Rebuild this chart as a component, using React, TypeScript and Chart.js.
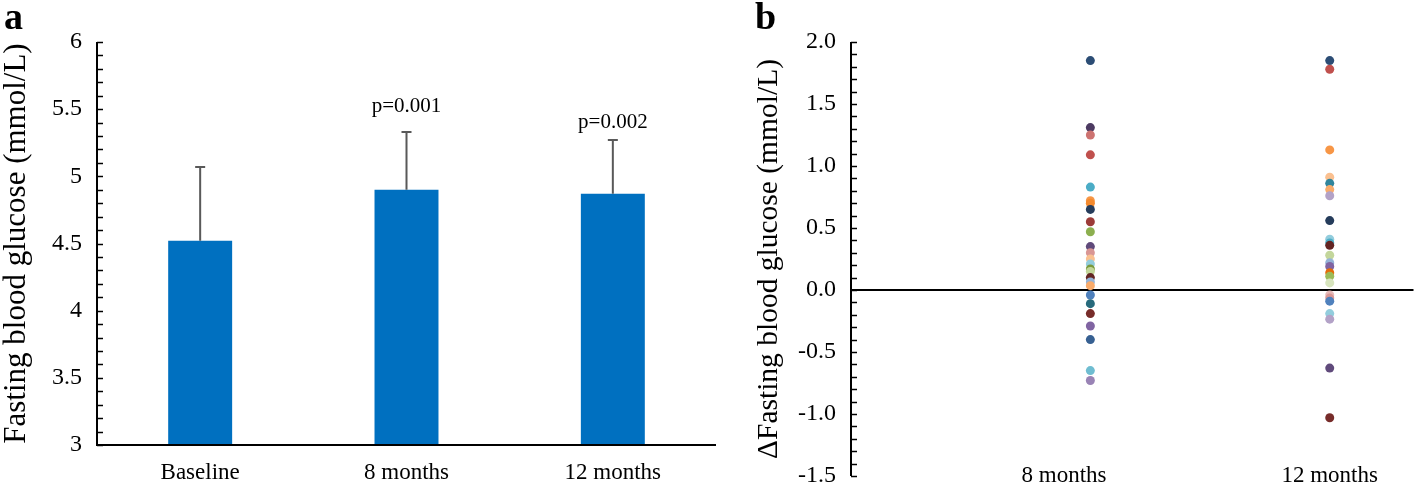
import React, { useEffect, useRef } from "react";
import { Chart, registerables } from "chart.js";
Chart.register(...registerables);

const SERIF = '"Liberation Serif", "Times New Roman", serif';

// Panel a
const categories = ["Baseline", "8 months", "12 months"];
const meanValues = [4.52, 4.9, 4.87];
const sdValues = [0.55, 0.43, 0.4];
const pLabels = ["", "p=0.001", "p=0.002"];
const pLabelValues = [0, 5.52, 5.4];
const leftTitle = "Fasting blood glucose (mmol/L)";

// Panel b
const deltaCategories = ["8 months", "12 months"];
const deltaCategoryX = [1, 2];
const deltaLabelX = [0.89, 2.0];
const delta8Values = [
  1.85, 1.31, 1.25, 1.09, 0.83, 0.72, 0.7, 0.65, 0.55, 0.47, 0.35, 0.3, 0.25, 0.21, 0.17, 0.15, 0.1,
  0.065, 0.035, -0.04, -0.11, -0.19, -0.29, -0.4, -0.65, -0.73,
];
const delta8Colors = [
  "#2C4D75", "#4D3B62", "#CD7371", "#C0504D", "#4BACC6", "#F79646", "#F38A2E", "#253C5B", "#9C3B38",
  "#8CAF4F", "#604A7B", "#D99694", "#FAC090", "#93CDDD", "#7A9A3C", "#C3D69B", "#632523", "#95B3D7",
  "#F9AB6B", "#4F81BD", "#276A7C", "#772C2A", "#8064A2", "#376092", "#6FBDD1", "#9983B5",
];
const delta12Values = [
  1.85, 1.78, 1.13, 0.91, 0.86, 0.81, 0.76, 0.56, 0.41, 0.38, 0.36, 0.28, 0.22, 0.19, 0.14, 0.11, 0.057,
  -0.04, -0.065, -0.09, -0.19, -0.235, -0.63, -1.03,
];
const delta12Colors = [
  "#2C4D75", "#C0504D", "#F79646", "#FAC090", "#31859C", "#F9AB6B", "#B3A2C7", "#253C5B", "#93CDDD",
  "#4BACC6", "#632523", "#C3D69B", "#95B3D7", "#8064A2", "#E46C0A", "#9BBB59", "#D7E4BD", "#E6B9B8",
  "#D99694", "#4F81BD", "#93CDDD", "#B3A2C7", "#604A7B", "#772C2A",
];
const rightTitle = "ΔFasting blood glucose (mmol/L)";

function drawInwardTicks(ctx: CanvasRenderingContext2D, chart: any, min: number, max: number) {
  const y = chart.scales.y;
  const left = chart.chartArea.left;
  ctx.save();
  ctx.strokeStyle = "#000";
  ctx.lineWidth = 1.5;
  const n = Math.round((max - min) / 0.1);
  for (let i = 0; i <= n; i++) {
    const v = min + i * 0.1;
    const py = Math.round(y.getPixelForValue(v)) + 0.5;
    ctx.beginPath();
    ctx.moveTo(left, py);
    ctx.lineTo(left + 6, py);
    ctx.stroke();
  }
  ctx.lineWidth = 2;
  ctx.beginPath();
  ctx.moveTo(left, y.getPixelForValue(max));
  ctx.lineTo(left, y.getPixelForValue(min));
  ctx.stroke();
  ctx.restore();
}

function drawTickLabels(ctx: CanvasRenderingContext2D, chart: any, fmt: (v: number) => string) {
  const y = chart.scales.y;
  const left = chart.chartArea.left;
  ctx.save();
  ctx.fillStyle = "#000";
  ctx.font = `24px ${SERIF}`;
  ctx.textAlign = "right";
  ctx.textBaseline = "middle";
  y.ticks.forEach((t: any) => {
    ctx.fillText(fmt(t.value), left - 15, y.getPixelForValue(t.value));
  });
  ctx.restore();
}

const leftPlugin = {
  id: "leftDecor",
  afterDatasetsDraw(chart: any) {
    const ctx = chart.ctx;
    const meta = chart.getDatasetMeta(0);
    const y = chart.scales.y;
    ctx.save();
    ctx.strokeStyle = "#595959";
    ctx.lineWidth = 2;
    meta.data.forEach((bar: any, i: number) => {
      const top = y.getPixelForValue(meanValues[i] + sdValues[i]);
      ctx.beginPath();
      ctx.moveTo(bar.x, bar.y);
      ctx.lineTo(bar.x, top);
      ctx.moveTo(bar.x - 5, top);
      ctx.lineTo(bar.x + 5, top);
      ctx.stroke();
      if (pLabels[i]) {
        ctx.fillStyle = "#000";
        ctx.font = `21px ${SERIF}`;
        ctx.textAlign = "center";
        ctx.textBaseline = "middle";
        ctx.fillText(pLabels[i], bar.x, y.getPixelForValue(pLabelValues[i]));
      }
    });
    ctx.restore();
  },
  afterDraw(chart: any) {
    const ctx = chart.ctx;
    const { left, right, bottom } = chart.chartArea;
    drawInwardTicks(ctx, chart, 3, 6);
    drawTickLabels(ctx, chart, (v) => String(Number(v.toFixed(1))));
    ctx.save();
    ctx.strokeStyle = "#000";
    ctx.lineWidth = 2;
    ctx.beginPath();
    ctx.moveTo(left - 1, bottom);
    ctx.lineTo(right, bottom);
    ctx.stroke();
    ctx.fillStyle = "#000";
    ctx.font = `bold 38px ${SERIF}`;
    ctx.textAlign = "left";
    ctx.textBaseline = "alphabetic";
    ctx.fillText("a", 4, 29);
    ctx.restore();
  },
};

const rightPlugin = {
  id: "rightDecor",
  beforeDatasetsDraw(chart: any) {
    const ctx = chart.ctx;
    const { left, right } = chart.chartArea;
    const y = chart.scales.y;
    const y0 = y.getPixelForValue(0);
    ctx.save();
    ctx.strokeStyle = "#000";
    ctx.lineWidth = 2;
    ctx.beginPath();
    ctx.moveTo(left, y0);
    ctx.lineTo(right, y0);
    ctx.stroke();
    ctx.restore();
  },
  afterDraw(chart: any) {
    const ctx = chart.ctx;
    const x = chart.scales.x;
    drawInwardTicks(ctx, chart, -1.5, 2.0);
    drawTickLabels(ctx, chart, (v) => v.toFixed(1));
    ctx.save();
    ctx.fillStyle = "#000";
    ctx.font = `23px ${SERIF}`;
    ctx.textAlign = "center";
    ctx.textBaseline = "alphabetic";
    deltaCategories.forEach((c, i) => {
      ctx.fillText(c, x.getPixelForValue(deltaLabelX[i]), 482);
    });
    ctx.font = `bold 38px ${SERIF}`;
    ctx.textAlign = "left";
    ctx.fillText("b", 35, 29);
    ctx.restore();
  },
};

function LeftChart() {
  const ref = useRef<HTMLCanvasElement>(null);
  useEffect(() => {
    const chart = new Chart(ref.current!, {
      type: "bar",
      data: {
        labels: categories,
        datasets: [
          {
            data: meanValues,
            backgroundColor: "#0070C0",
            barPercentage: 0.31,
            categoryPercentage: 1,
          },
        ],
      },
      options: {
        responsive: false,
        animation: false,
        layout: { padding: { left: 0, top: 42, right: 4, bottom: 0 } },
        plugins: { legend: { display: false }, tooltip: { enabled: false } },
        scales: {
          x: {
            grid: { display: false, drawTicks: false },
            border: { display: false },
            ticks: { color: "#000", font: { family: SERIF, size: 23 }, padding: 14, maxRotation: 0 },
            afterFit: (s: any) => {
              s.height = 42;
            },
          },
          y: {
            min: 3,
            max: 6,
            grid: { display: false, drawTicks: false },
            border: { display: false },
            ticks: { stepSize: 0.5, display: false },
            title: {
              display: true,
              text: leftTitle,
              color: "#000",
              font: { family: SERIF, size: 31, lineHeight: 1.1 },
              padding: { top: 0, bottom: 0 },
            },
            afterFit: (s: any) => {
              s.width = 97;
            },
          },
        },
      },
      plugins: [leftPlugin],
    } as any);
    return () => chart.destroy();
  }, []);
  return <canvas ref={ref} width={720} height={487} style={{ width: 720, height: 487, display: "block" }} />;
}

function RightChart() {
  const ref = useRef<HTMLCanvasElement>(null);
  useEffect(() => {
    const chart = new Chart(ref.current!, {
      type: "scatter",
      data: {
        datasets: [
          {
            data: delta8Values.map((v) => ({ x: deltaCategoryX[0], y: v })),
            pointBackgroundColor: delta8Colors,
            pointBorderWidth: 0,
            pointRadius: 4.5,
          },
          {
            data: delta12Values.map((v) => ({ x: deltaCategoryX[1], y: v })),
            pointBackgroundColor: delta12Colors,
            pointBorderWidth: 0,
            pointRadius: 4.5,
          },
        ],
      },
      options: {
        responsive: false,
        animation: false,
        layout: { padding: { left: 0, top: 42, right: 2, bottom: 11 } },
        plugins: { legend: { display: false }, tooltip: { enabled: false } },
        scales: {
          x: { type: "linear", min: 0, max: 2.35, display: false },
          y: {
            min: -1.5,
            max: 2.0,
            grid: { display: false, drawTicks: false },
            border: { display: false },
            ticks: { stepSize: 0.5, display: false },
            title: {
              display: true,
              text: rightTitle,
              color: "#000",
              font: { family: SERIF, size: 29.5, lineHeight: 1.1 },
              padding: { top: 33, bottom: 0 },
            },
            afterFit: (s: any) => {
              s.width = 131;
            },
          },
        },
      },
      plugins: [rightPlugin],
    } as any);
    return () => chart.destroy();
  }, []);
  return <canvas ref={ref} width={698} height={487} style={{ width: 698, height: 487, display: "block" }} />;
}

export default function App() {
  return (
    <div style={{ position: "fixed", left: 0, top: 0, width: 1418, height: 487, background: "#fff" }}>
      <div style={{ position: "absolute", left: 0, top: 0 }}>
        <LeftChart />
      </div>
      <div style={{ position: "absolute", left: 720, top: 0 }}>
        <RightChart />
      </div>
    </div>
  );
}
